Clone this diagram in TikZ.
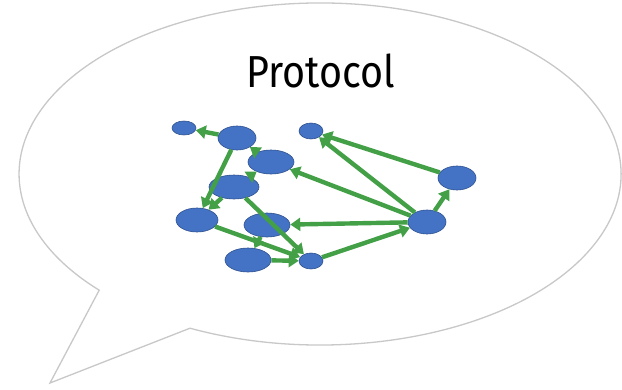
\documentclass[tikz,border=0pt]{standalone}
\usepackage{fontspec}
\setmainfont{Fira Sans}
\usetikzlibrary{shapes.geometric,arrows.meta}
\definecolor{bubblegray}{RGB}{200,200,200}
\definecolor{nodeblue}{RGB}{68,114,196}
\definecolor{nodeedge}{RGB}{47,82,143}
\definecolor{arrowgreen}{RGB}{67,160,71}
\tikzset{
  dot/.style={ellipse, fill=nodeblue, draw=nodeedge, line width=0.6bp, inner sep=0pt},
  link/.style={draw=arrowgreen, line width=4.4bp, -{Triangle[length=10bp,width=13bp]}},
}
\begin{document}
\begin{tikzpicture}[x=1bp,y=1bp]
\useasboundingbox (0,0) rectangle (622,389);
\fill[white] (0,0) rectangle (622,389);
% speech bubble
\draw[bubblegray, line width=1.3bp, fill=white, line join=miter]
  (190,60.8) arc[start angle=244.4, end angle=582.8, x radius=301, y radius=171]
  -- (50,6) -- cycle;
\node[anchor=base, font=\fontsize{45}{50}\selectfont] (title) at (321,302) {\scalebox{0.88}[1]{Protocol}};
% nodes
\node[dot, minimum width=24bp, minimum height=14bp] (A) at (184,261) {};
\node[dot, minimum width=38bp, minimum height=24bp] (B) at (237,251) {};
\node[dot, minimum width=46bp, minimum height=24bp] (C) at (271,227) {};
\node[dot, minimum width=50bp, minimum height=24bp] (D) at (234,202) {};
\node[dot, minimum width=42bp, minimum height=24bp] (E) at (197,169) {};
\node[dot, minimum width=46bp, minimum height=24bp] (F) at (267,164) {};
\node[dot, minimum width=46bp, minimum height=24bp] (G) at (248,129) {};
\node[dot, minimum width=24bp, minimum height=16bp] (H) at (311,128) {};
\node[dot, minimum width=24bp, minimum height=16bp] (I) at (311,258) {};
\node[dot, minimum width=38bp, minimum height=24bp] (J) at (427,167) {};
\node[dot, minimum width=38bp, minimum height=24bp] (K) at (457,211) {};
% links
\draw[link] (B) -- (A);
\draw[link] (B) -- (E);
\draw[link] (C) -- (B);
\draw[link] (D) -- (C);
\draw[link] (D) -- (E);
\draw[link] (D) -- (H);
\draw[link] (E) -- (H);
\draw[link] (F) -- (G);
\draw[link] (G) -- (H);
\draw[link] (H) -- (J);
\draw[link] (J) -- (F);
\draw[link] (J) -- (C);
\draw[link] (J) -- (I);
\draw[link] (J) -- (K);
\draw[link] (K) -- (I);
\end{tikzpicture}
\end{document}
